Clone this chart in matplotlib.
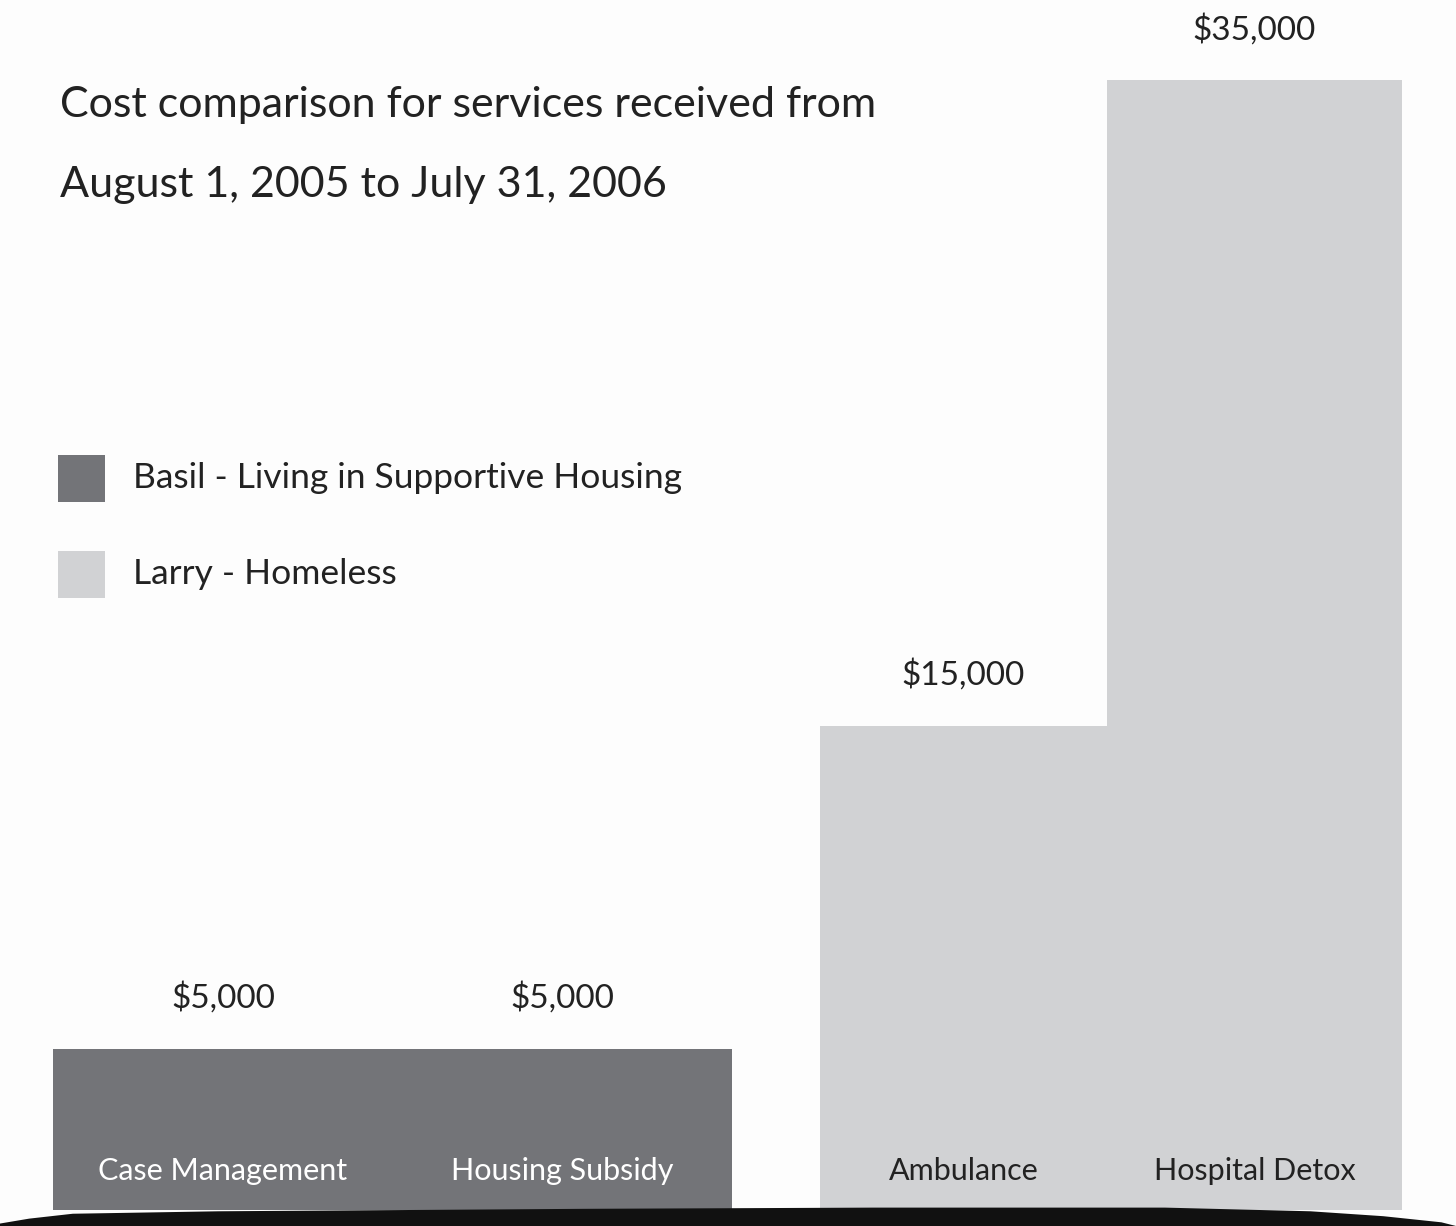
import matplotlib.pyplot as plt
from matplotlib.patches import Polygon

# data
categories = ['Case Management', 'Housing Subsidy', 'Ambulance', 'Hospital Detox']
costs = [5000, 5000, 15000, 35000]
owner = ['Basil', 'Basil', 'Larry', 'Larry']
value_labels = ['$5,000', '$5,000', '$15,000', '$35,000']
legend_labels = ['Basil - Living in Supportive Housing', 'Larry - Homeless']

DARK = '#737478'
LIGHT = '#d1d2d4'
colors = {'Basil': DARK, 'Larry': LIGHT}
text_colors = {'Basil': 'white', 'Larry': '#222222'}

# layout (x in pixel-like units across the figure)
bar_left = [53, 393, 820, 1107]
bar_width = [340, 339, 287, 295]

plt.rcParams['font.family'] = ['Lato', 'DejaVu Sans']

fig = plt.figure(figsize=(14.56, 12.26), dpi=100)
ax = fig.add_axes([0, 0, 1, 1])
ax.set_xlim(0, 1456)
ax.set_ylim(-496, 37470)
ax.axis('off')

bars = ax.bar(bar_left, costs, width=bar_width, align='edge',
              color=[colors[o] for o in owner], linewidth=0, zorder=2)

for b, lab, cat, o in zip(bars, value_labels, categories, owner):
    cx = b.get_x() + b.get_width() / 2
    ax.annotate(lab, (cx, b.get_height()), xytext=(0, 25), textcoords='offset points',
                ha='center', va='bottom', fontsize=24, color='#222222')
    ax.text(cx, 1200, cat, ha='center', va='center', fontsize=22,
            color=text_colors[o], zorder=3)

# rough black base
base = Polygon([(0, 0.0), (0, 0.002), (0.02, 0.006), (0.05, 0.010), (0.15, 0.012),
                (0.4, 0.014), (0.6, 0.015), (0.8, 0.015), (0.9, 0.012), (0.95, 0.008),
                (0.99, 0.003), (1, 0.0)],
               closed=True, transform=fig.transFigure, facecolor='#111111',
               edgecolor='none', zorder=4)
fig.add_artist(base)

# title
fig.text(60 / 1456, 1 - 105 / 1226, 'Cost comparison for services received from',
         ha='left', va='center', fontsize=31, color='#222222')
fig.text(60 / 1456, 1 - 185 / 1226, 'August 1, 2005 to July 31, 2006',
         ha='left', va='center', fontsize=31, color='#222222')

# legend
for i, (lab, c) in enumerate(zip(legend_labels, [DARK, LIGHT])):
    y = 478 + i * 96
    fig.patches.append(Polygon([(58 / 1456, 1 - (y - 23) / 1226), (105 / 1456, 1 - (y - 23) / 1226),
                                (105 / 1456, 1 - (y + 24) / 1226), (58 / 1456, 1 - (y + 24) / 1226)],
                               closed=True, transform=fig.transFigure, facecolor=c,
                               edgecolor='none'))
    fig.text(133 / 1456, 1 - y / 1226, lab, ha='left', va='center', fontsize=25.5,
             color='#222222')

plt.savefig('out.png', dpi=100, facecolor='#fdfdfd')
